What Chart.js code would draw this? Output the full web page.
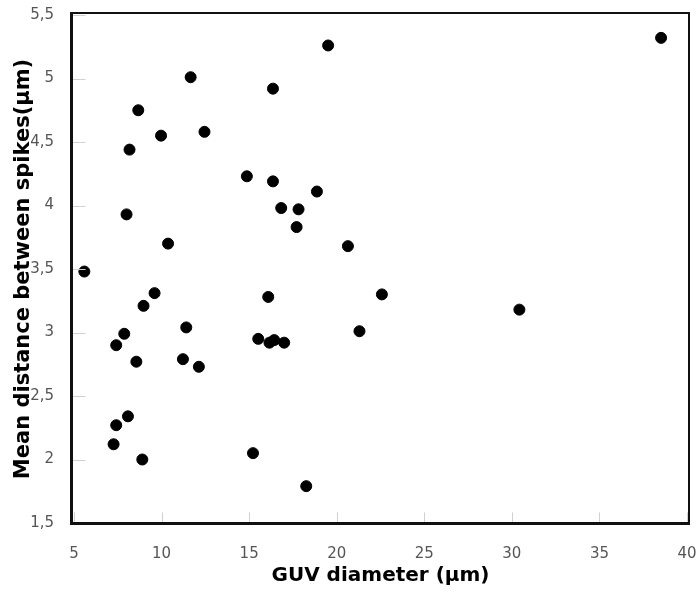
<!DOCTYPE html>
<html>
<head>
<meta charset="utf-8">
<script src="https://cdn.jsdelivr.net/npm/chart.js@4/dist/chart.umd.min.js"></script>
<style>
  html, body { margin: 0; padding: 0; background: #fff; }
  #wrap { width: 699px; height: 592px; }
</style>
</head>
<body>
<div id="wrap"><canvas id="scatter"></canvas></div>
<script>
// GUV diameter (µm) vs mean distance between spikes (µm)
const guvDiameter = [
    5.59, 11.66, 19.51, 16.36, 8.67, 8.17, 9.97, 12.45, 14.87, 16.36,
    18.87, 16.83, 17.82, 17.71, 8.0, 10.37, 20.64, 9.6, 8.97, 16.09,
    7.87, 7.41, 11.41, 15.52, 16.16, 16.43, 17.0, 8.56, 11.22, 12.13,
    8.08, 7.41, 7.26, 8.9, 15.22, 18.26, 38.52, 22.58, 30.43, 21.3
];
const meanDistance = [
    3.48, 5.01, 5.26, 4.92, 4.75, 4.44, 4.55, 4.58, 4.23, 4.19,
    4.11, 3.98, 3.97, 3.83, 3.93, 3.70, 3.68, 3.31, 3.21, 3.28,
    2.99, 2.90, 3.04, 2.95, 2.92, 2.94, 2.92, 2.77, 2.79, 2.73,
    2.34, 2.27, 2.12, 2.00, 2.05, 1.79, 5.32, 3.30, 3.18, 3.01
];
const xTicks = [5, 10, 15, 20, 25, 30, 35, 40];
const yTicks = [1.5, 2, 2.5, 3, 3.5, 4, 4.5, 5, 5.5];

const points = guvDiameter.map((d, i) => ({ x: d, y: meanDistance[i] }));

// short grey tick marks inside the plot + the black frame (sits a bit outside the data range)
const framePlugin = {
    id: 'frame',
    afterDraw(chart) {
        const ctx = chart.ctx;
        const a = chart.chartArea;
        const xs = chart.scales.x, ys = chart.scales.y;
        const L = a.left - 2.5, R = a.right + 2, T = a.top - 2, B = a.bottom + 0.5;
        ctx.save();
        ctx.strokeStyle = '#d0d0d0';
        ctx.lineWidth = 1;
        ctx.beginPath();
        yTicks.forEach(v => {
            const py = Math.round(ys.getPixelForValue(v)) + 0.5;
            ctx.moveTo(L, py); ctx.lineTo(L + 14, py);
        });
        xTicks.forEach(v => {
            const px = Math.round(xs.getPixelForValue(v)) + 0.5;
            ctx.moveTo(px, B); ctx.lineTo(px, B - 11);
        });
        ctx.stroke();

        ctx.strokeStyle = '#111';
        ctx.lineWidth = 2;
        ctx.beginPath();
        ctx.moveTo(L, T); ctx.lineTo(R, T); ctx.lineTo(R, B);
        ctx.stroke();
        ctx.lineWidth = 3;
        ctx.beginPath();
        ctx.moveTo(L, T - 1); ctx.lineTo(L, B); ctx.lineTo(R + 1, B);
        ctx.stroke();
        ctx.restore();
    }
};

const commaFmt = v => String(v).replace('.', ',');

new Chart(document.getElementById('scatter').getContext('2d'), {
    type: 'scatter',
    data: {
        datasets: [{
            data: points,
            backgroundColor: '#000',
            borderColor: '#000',
            pointRadius: 5.5,
            pointHoverRadius: 5.5
        }]
    },
    options: {
        responsive: true,
        maintainAspectRatio: false,
        animation: false,
        layout: { padding: { top: 15, right: 12, left: 0, bottom: 0 } },
        plugins: { legend: { display: false }, tooltip: { enabled: false } },
        scales: {
            x: {
                type: 'linear',
                min: 5, max: 40,
                afterBuildTicks: s => { s.ticks = xTicks.map(v => ({ value: v })); },
                afterFit: s => { s.height = 69; s.paddingLeft = 0; s.paddingRight = 0; },
                grid: { display: false },
                border: { display: false },
                ticks: {
                    padding: 14,
                    color: '#555',
                    font: { family: 'DejaVu Sans', size: 15 },
                    callback: commaFmt
                },
                title: {
                    display: true,
                    text: 'GUV diameter (µm)',
                    color: '#000',
                    font: { family: 'DejaVu Sans', size: 20, weight: 'bold' },
                    padding: { top: 4, bottom: 4 }
                }
            },
            y: {
                type: 'linear',
                min: 1.5, max: 5.5,
                afterBuildTicks: s => { s.ticks = yTicks.map(v => ({ value: v })); },
                afterFit: s => { s.width = 74; s.paddingTop = 0; s.paddingBottom = 0; },
                grid: { display: false },
                border: { display: false },
                ticks: {
                    padding: 12,
                    color: '#555',
                    font: { family: 'DejaVu Sans', size: 15 },
                    callback: commaFmt
                },
                title: {
                    display: true,
                    text: 'Mean distance between spikes(µm)',
                    color: '#000',
                    font: { family: 'DejaVu Sans', size: 21, weight: 'bold' },
                    padding: { top: 11, bottom: 0 }
                }
            }
        }
    },
    plugins: [framePlugin]
});
</script>
</body>
</html>
